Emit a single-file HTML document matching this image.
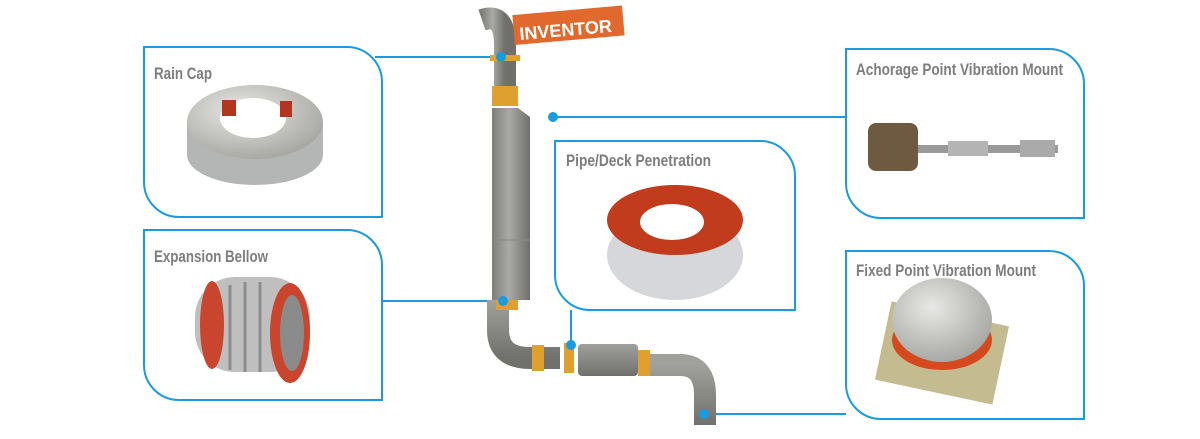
<!DOCTYPE html>
<html><head><meta charset="utf-8"><style>
html,body{margin:0;padding:0;background:#fff;}
body{width:1200px;height:439px;overflow:hidden;position:relative;}
svg{position:absolute;left:0;top:0;}
.t{font-family:"Liberation Sans",sans-serif;font-weight:bold;fill:#7d7d7d;font-size:17px;}
</style></head><body>
<svg width="1200" height="439" viewBox="0 0 1200 439">
<defs>
<linearGradient id="pg" x1="0" x2="1"><stop offset="0" stop-color="#7e7e7a"/><stop offset="0.45" stop-color="#a9a9a5"/><stop offset="1" stop-color="#6f6f6b"/></linearGradient>
<linearGradient id="pv" x1="0" y1="0" x2="0" y2="1"><stop offset="0" stop-color="#a0a09c"/><stop offset="1" stop-color="#70706c"/></linearGradient>
<radialGradient id="met" cx="0.4" cy="0.35" r="0.7"><stop offset="0" stop-color="#e8e8e6"/><stop offset="1" stop-color="#a4a4a0"/></radialGradient>
</defs>
<g fill="none" stroke="#1a9be0" stroke-width="2">
<path d="M144 47 H347 A35 35 0 0 1 382 82 V217 H179 A35 35 0 0 1 144 182 Z"/>
<path d="M144 230 H347 A35 35 0 0 1 382 265 V400 H179 A35 35 0 0 1 144 365 Z"/>
<path d="M555 141 H760 A35 35 0 0 1 795 176 V310 H590 A35 35 0 0 1 555 275 Z"/>
<path d="M846 49 H1049 A35 35 0 0 1 1084 84 V218 H881 A35 35 0 0 1 846 183 Z"/>
<path d="M846 251 H1049 A35 35 0 0 1 1084 286 V419 H881 A35 35 0 0 1 846 384 Z"/>
<path d="M375 57 H501"/><path d="M553 117 H846"/><path d="M382 301 H503"/><path d="M571 310 V345"/><path d="M704 414 H846"/>
</g>
<text class="t" x="154" y="79" textLength="58" lengthAdjust="spacingAndGlyphs">Rain Cap</text>
<text class="t" x="154" y="262" textLength="114" lengthAdjust="spacingAndGlyphs">Expansion Bellow</text>
<text class="t" x="566" y="166" textLength="145" lengthAdjust="spacingAndGlyphs">Pipe/Deck Penetration</text>
<text class="t" x="856" y="75" textLength="207" lengthAdjust="spacingAndGlyphs">Achorage Point Vibration Mount</text>
<text class="t" x="856" y="276" textLength="180" lengthAdjust="spacingAndGlyphs">Fixed Point Vibration Mount</text>
<!-- pipe -->
<path d="M482 20 Q505 12 505 45 L505 100" stroke="url(#pg)" stroke-width="22" fill="none"/>
<rect x="490" y="55" width="30" height="6" fill="#e0a030"/>
<rect x="492" y="86" width="26" height="20" fill="#e0a030"/>
<path d="M492 108 L518 108 L530 117 L530 300 L492 300 L492 117 Z" fill="url(#pg)"/>
<line x1="492" y1="240" x2="530" y2="240" stroke="#8a8a86"/>
<path d="M498 300 L498 330 Q498 358 530 358 L560 358" stroke="url(#pv)" stroke-width="22" fill="none"/>
<rect x="496" y="300" width="22" height="10" fill="#e0a030"/>
<rect x="532" y="345" width="12" height="26" fill="#e0a030"/>
<rect x="564" y="343" width="10" height="30" fill="#e0a030"/>
<rect x="578" y="344" width="60" height="32" rx="4" fill="url(#pv)"/>
<rect x="638" y="350" width="12" height="26" fill="#e0a030"/>
<path d="M650 365 L680 365 Q705 365 705 395 L705 425" stroke="url(#pv)" stroke-width="22" fill="none"/>
<rect x="515" y="15" width="110" height="30" fill="#e2692d" transform="rotate(-5 515 45)"/>
<text x="520" y="40" font-family="Liberation Sans,sans-serif" font-weight="bold" font-size="18" fill="#fff" transform="rotate(-5 520 40)">INVENTOR</text>
<g fill="#1a9be0"><circle cx="501" cy="57" r="5"/><circle cx="553" cy="117" r="5"/><circle cx="503" cy="301" r="5"/><circle cx="571" cy="345" r="5"/><circle cx="704" cy="414" r="5"/></g>
<!-- product images -->
<ellipse cx="255" cy="155" rx="68" ry="30" fill="#b4b6b6"/>
<rect x="187" y="122" width="136" height="33" fill="#b4b6b6"/>
<ellipse cx="255" cy="122" rx="68" ry="37" fill="url(#met)"/>
<ellipse cx="253" cy="118" rx="33" ry="20" fill="#fff"/>
<rect x="222" y="100" width="14" height="16" fill="#b0361f"/><rect x="280" y="101" width="12" height="16" fill="#b0361f"/>
<rect x="195" y="277" width="115" height="95" rx="40" fill="#bfbfbf"/>
<g stroke="#8c8c8c" stroke-width="3">
<line x1="215" y1="290" x2="215" y2="365"/><line x1="230" y1="285" x2="230" y2="370"/><line x1="245" y1="282" x2="245" y2="372"/><line x1="260" y1="282" x2="260" y2="372"/></g>
<ellipse cx="212" cy="325" rx="12" ry="44" fill="#c9452e"/>
<ellipse cx="290" cy="333" rx="20" ry="50" fill="#c9452e"/>
<ellipse cx="292" cy="333" rx="12" ry="38" fill="#8b8b8b"/>
<ellipse cx="675" cy="255" rx="68" ry="45" fill="#d5d7da"/>
<ellipse cx="675" cy="220" rx="68" ry="35" fill="#c13c1d"/>
<ellipse cx="672" cy="222" rx="32" ry="18" fill="#fff"/>
<rect x="868" y="123" width="50" height="48" rx="8" fill="#6e5a40"/>
<rect x="918" y="145" width="140" height="8" fill="#9a9a9a"/>
<rect x="948" y="141" width="40" height="15" fill="#b4b4b4"/><rect x="1020" y="140" width="35" height="17" fill="#aaa"/>
<rect x="882" y="313" width="120" height="80" fill="#c4bc90" transform="rotate(12 942 353)"/>
<ellipse cx="942" cy="340" rx="50" ry="30" fill="#d44a1e"/>
<ellipse cx="942" cy="320" rx="50" ry="42" fill="url(#met)"/>
</svg>
</body></html>
